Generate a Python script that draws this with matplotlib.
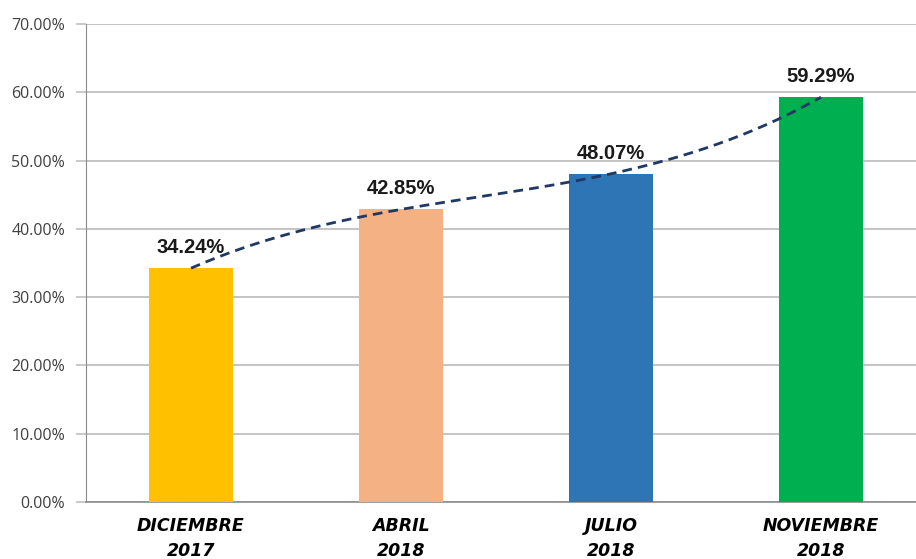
import numpy as np
import matplotlib
matplotlib.use("Agg")
import matplotlib.pyplot as plt

categories = ["DICIEMBRE\n2017", "ABRIL\n2018", "JULIO\n2018", "NOVIEMBRE\n2018"]
values = [34.24, 42.85, 48.07, 59.29]
colors = ["#FFC000", "#F4B183", "#2E75B6", "#00B050"]
yticks = [0, 10, 20, 30, 40, 50, 60, 70]

fig = plt.figure(figsize=(9.16, 5.59), dpi=100)
ax = fig.add_axes([0.0939, 0.102, 0.917, 0.855])

x = np.arange(len(values))
ax.bar(x, values, width=0.4, color=colors, zorder=3)

# polynomial trendline
coef = np.polyfit(x, values, 3)
xs = np.linspace(x[0], x[-1], 200)
ax.plot(xs, np.polyval(coef, xs), linestyle=(0, (3.5, 2.2)), color="#1F3864",
        linewidth=2.0, zorder=4)

for xi, v in zip(x, values):
    ax.text(xi, v + 2.2, f"{v:.2f}%", ha="center", va="baseline",
            fontsize=14.5, fontweight="bold", color="#1a1a1a",
            family="Liberation Sans", zorder=5)

ax.set_xlim(-0.5, 3.5)
ax.set_ylim(0, 70)
ax.set_yticks(yticks)
ax.set_yticklabels([f"{t:.2f}%" for t in yticks], fontsize=11.5, color="#404040",
                   family="Open Sans")
ax.set_xticks(x)
ax.set_xticklabels(categories, fontsize=12.5, fontweight="bold", style="italic",
                   family="Liberation Sans Narrow", linespacing=1.45)
ax.tick_params(axis="x", length=0, pad=11)
ax.tick_params(axis="y", length=7, width=1.2, color="#c0c0c0", pad=8)
ax.grid(axis="y", color="#c4c4c4", linewidth=1.4, zorder=0)
for s in ["top", "right"]:
    ax.spines[s].set_visible(False)
ax.spines["left"].set_color("#8c8c8c")
ax.spines["bottom"].set_color("#8c8c8c")
ax.spines["bottom"].set_linewidth(1.2)

fig.text(0.365, 1.018, "p", ha="center", va="center", fontsize=16,
         family="Liberation Serif", color="#000000")

fig.savefig("out.png", dpi=100)
